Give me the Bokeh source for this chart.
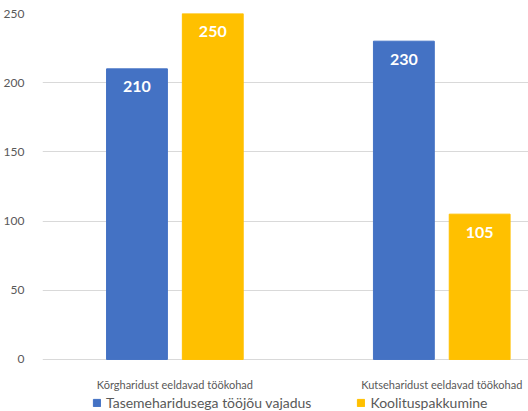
from bokeh.plotting import figure
from bokeh.models import ColumnDataSource, FixedTicker, Range1d, Legend, LegendItem
from bokeh.core.properties import value
from bokeh.embed import file_html
from bokeh.resources import INLINE

categories = ["Kõrgharidust eeldavad töökohad", "Kutseharidust eeldavad töökohad"]
series_names = ["Tasemeharidusega tööjõu vajadus", "Koolituspakkumine"]
demand = [210, 230]
supply = [250, 105]
y_ticks = [0, 50, 100, 150, 200, 250]
colors = ["#4472C4", "#FFC000"]

FONT = "Lato"
xs = list(range(len(categories)))
off = 0.142
bw = 0.228

p = figure(width=528, height=411, output_backend="svg", toolbar_location=None,
           x_range=Range1d(-0.496, 1.325), y_range=Range1d(-37.6, 250),
           min_border_left=40, min_border_right=0, min_border_top=13, min_border_bottom=0)
p.outline_line_color = None
p.background_fill_color = "white"
p.border_fill_color = "white"

src1 = ColumnDataSource(dict(x=[v - off for v in xs], top=demand, lab=[str(v) for v in demand]))
src2 = ColumnDataSource(dict(x=[v + off for v in xs], top=supply, lab=[str(v) for v in supply]))
r1 = p.vbar(x="x", top="top", bottom=0, width=bw, source=src1, color=colors[0])
r2 = p.vbar(x="x", top="top", bottom=0, width=bw, source=src2, color=colors[1])

for s in (src1, src2):
    p.text(x="x", y="top", text="lab", source=s, y_offset=18, text_align="center",
           text_baseline="middle", text_color="white", text_font=value(FONT),
           text_font_style="bold", text_font_size="16px")

cat_src = ColumnDataSource(dict(x=xs, y=[0] * len(xs), t=categories))
p.text(x="x", y="y", text="t", source=cat_src, y_offset=25, text_align="center",
       text_baseline="middle", text_color="#595959", text_font=value(FONT),
       text_font_size="11px")

p.xgrid.grid_line_color = None
p.ygrid.grid_line_color = "#d9d9d9"
p.ygrid.ticker = FixedTicker(ticks=y_ticks)

p.yaxis.ticker = FixedTicker(ticks=y_ticks)
p.yaxis.axis_line_color = None
p.yaxis.major_tick_line_color = None
p.yaxis.minor_tick_line_color = None
p.yaxis.major_label_text_font = FONT
p.yaxis.major_label_text_font_size = "12px"
p.yaxis.major_label_text_color = "#595959"
p.yaxis.major_label_standoff = 12

p.xaxis.visible = False

legend = Legend(items=[LegendItem(label=series_names[0], renderers=[r1]),
                       LegendItem(label=series_names[1], renderers=[r2])],
                orientation="horizontal", location=(50, 0),
                label_text_font=FONT, label_text_font_size="14px",
                label_text_color="#595959", glyph_width=9, glyph_height=9,
                spacing=45, border_line_color=None, background_fill_alpha=0,
                padding=2, margin=0)
p.add_layout(legend, "center")

open("out.html", "w").write(file_html(p, INLINE))
